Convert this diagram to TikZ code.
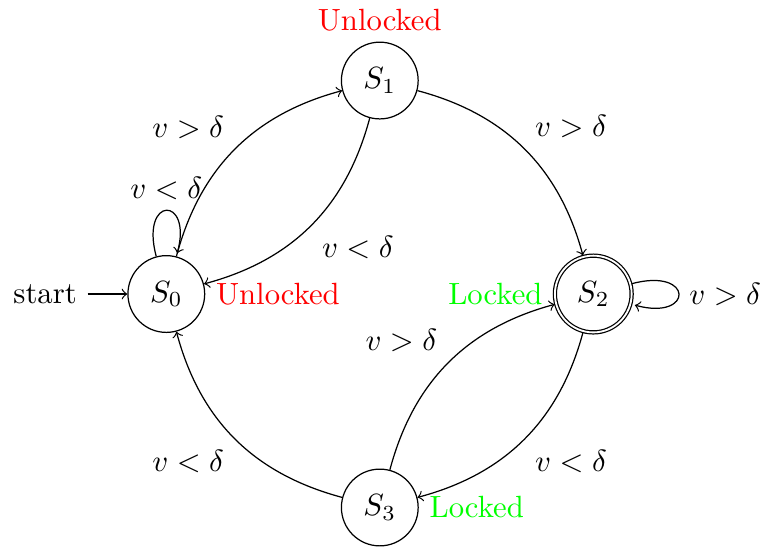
\documentclass[tikz,border=0pt]{standalone}
\usepackage{xcolor}
\usepackage{tikz}
\usetikzlibrary{automata,positioning}
\definecolor{unlockred}{HTML}{FF0000}
\definecolor{lockgreen}{HTML}{00FF00}

\begin{document}
\begin{tikzpicture}[->,auto,every state/.append style={minimum size=2.5em}]
\useasboundingbox (-1.904,-2.919) rectangle (6.854,3.366);
\node[state,initial,initial text=start,label={[unlockred]right:Unlocked}] (s0) at (0,0) {$S_0$};
\node[state,label={[unlockred]above:Unlocked}] (s1) at (2.444,2.444) {$S_1$};
\node[state,accepting,label={[lockgreen]left:Locked}] (s2) at (4.888,0) {$S_2$};
\node[state,label={[lockgreen]right:Locked}] (s3) at (2.444,-2.444) {$S_3$};

\path (s0) edge[loop above] node {$v<\delta$} (s0)
           edge[bend left] node {$v>\delta$} (s1)
      (s1) edge[bend left] node {$v<\delta$} (s0)
           edge[bend left] node {$v>\delta$} (s2)
      (s2) edge[loop right] node {$v>\delta$} (s2)
           edge[bend left] node {$v<\delta$} (s3)
      (s3) edge[bend left] node {$v>\delta$} (s2)
           edge[bend left] node {$v<\delta$} (s0);
\end{tikzpicture}
\end{document}
